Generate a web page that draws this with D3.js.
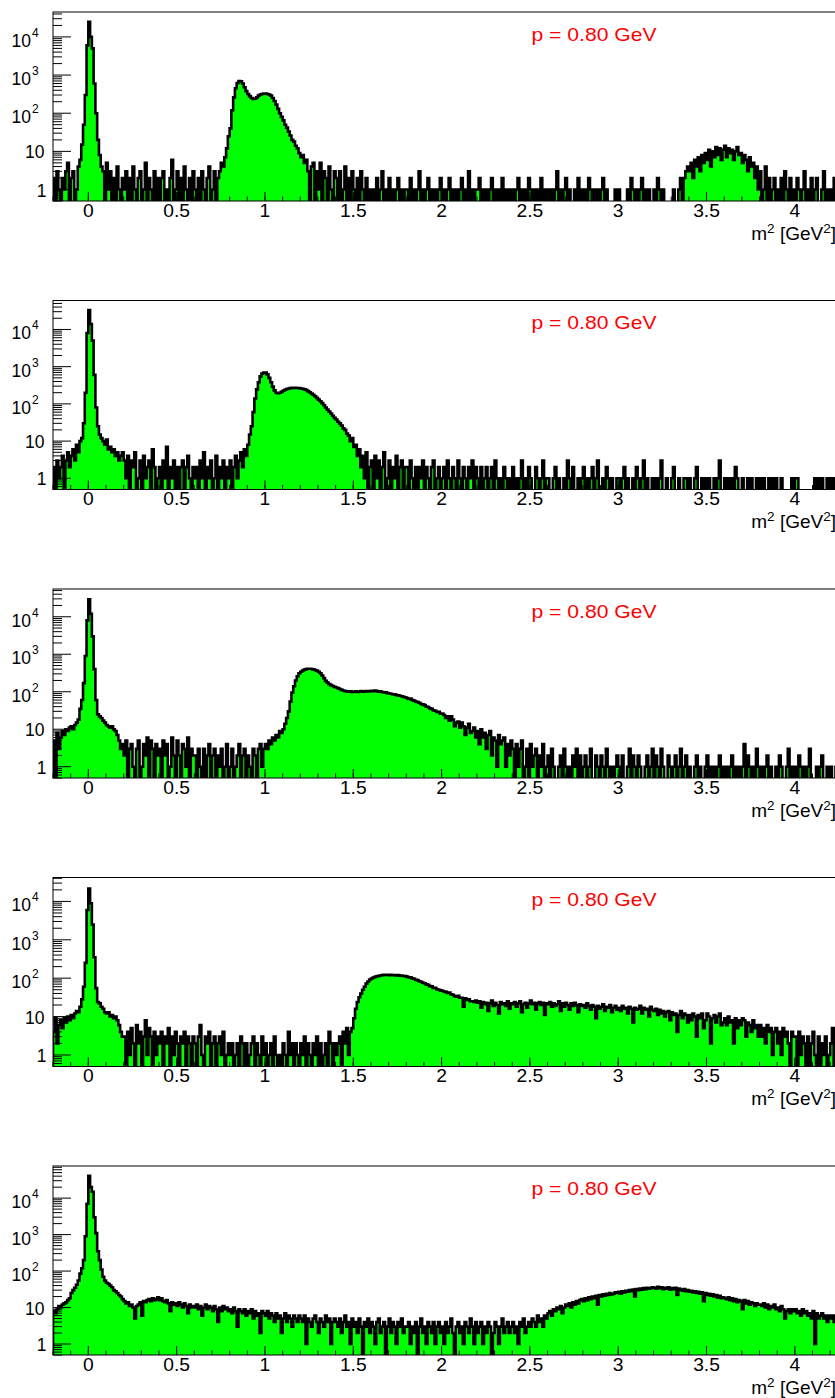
<!DOCTYPE html>
<html><head><meta charset="utf-8">
<script src="https://cdn.jsdelivr.net/npm/d3@7"></script>
<style>body{margin:0;background:#fff}svg{display:block}</style>
</head><body>
<script>
// ---- data (bin width 0.01 GeV^2, first bin starts at -0.2) ----
const xMin = -0.2, xMax = 4.25, binWidth = 0.01, yMin = 0.5;
const panelLabels = ["p = 0.80 GeV","p = 0.80 GeV","p = 0.80 GeV","p = 0.80 GeV","p = 0.80 GeV"];
const yMaxValues = [4.5e4, 6.0e4, 5.5e4, 4.2e4, 7.6e4];
const xTickValues = [0,0.5,1,1.5,2,2.5,3,3.5,4];
const xTickLabels = ["0","0.5","1","1.5","2","2.5","3","3.5","4"];
const yTickValues = [1,10,100,1000,10000];
const yTickBase = ["1","10","10","10","10"];
const yTickExp = ["","","2","3","4"];

const counts1 = [
2,0,3,1,0,2,1,3,5,0,2,3,0,1,4,6,15,50,300,6000,
25000,10000,5000,600,100,20,8,4,3,0,5,1,3,0,2,0,4,1,0,2,
1,3,0,2,0,4,1,0,2,3,0,1,5,0,2,1,0,3,0,2,
0,2,3,0,1,0,2,6,0,1,3,0,2,0,4,1,0,2,0,3,
1,0,2,0,3,1,0,2,4,0,1,3,0,2,3,5,4,7,12,25,
40,120,260,450,620,700,690,600,480,380,320,280,250,235,240,260,290,310,320,330,
330,320,310,290,250,210,170,130,100,80,65,50,42,33,26,20,18,14,12,9,
7,8,5,6,3,0,4,5,0,3,1,5,0,3,2,0,4,1,0,3,
2,0,3,0,1,4,0,2,0,3,1,0,2,0,3,1,0,2,0,1,
0,1,0,2,0,1,3,0,1,0,2,0,1,0,1,2,0,1,0,1,
1,0,2,0,1,0,1,3,0,1,0,1,2,0,1,0,1,0,1,2,
0,1,0,1,2,0,1,0,1,0,1,2,0,1,0,3,0,1,0,1,
1,2,0,1,0,1,0,1,2,0,1,0,1,0,2,0,1,0,1,0,
1,0,1,2,0,1,0,1,0,2,1,0,1,0,1,0,2,0,1,0,
1,0,1,0,1,3,0,1,0,1,2,0,1,0,0,1,0,2,0,1,
0,1,0,2,1,0,1,0,1,0,1,2,0,1,0,0,0,0,1,0,
1,0,0,0,0,1,0,2,1,0,1,0,1,2,0,1,0,1,0,0,
1,0,2,1,0,1,0,0,0,0,0,1,0,0,1,2,0,2,3,4,
3,5,2,6,4,7,3,8,5,9,6,11,4,10,7,13,8,12,6,11,
14,7,12,9,11,6,10,13,8,9,5,8,6,3,7,4,5,2,4,1,
3,0,1,4,0,2,0,1,2,0,1,0,2,0,3,1,0,2,0,1,
0,2,1,0,1,3,0,1,0,2,0,1,2,0,0,1,3,0,1,0,
1,0,2,0,1];

const counts2 = [
2,0,3,1,2,4,0,3,5,2,4,6,3,8,5,10,12,30,200,8000,
33000,14000,5000,600,80,25,15,12,10,8,11,6,7,5,6,4,5,3,4,5,
3,1,4,0,3,2,5,0,1,3,0,4,1,2,3,0,6,2,0,1,
2,0,3,1,7,0,2,1,3,0,2,0,2,3,0,2,4,1,0,2,
1,2,0,3,1,5,0,2,1,3,0,1,4,0,2,1,3,0,2,1,
3,0,2,4,1,3,5,2,6,4,8,15,25,60,140,245,380,550,650,700,
690,620,500,380,290,230,200,195,200,210,225,240,250,260,265,270,272,270,268,265,
260,255,245,235,220,205,190,175,160,145,130,118,105,92,80,70,62,55,48,42,
38,33,30,26,22,20,16,14,10,12,7,8,4,6,2,4,1,5,0,2,
3,0,4,1,3,0,2,5,0,1,3,0,2,1,4,0,2,3,0,2,
2,0,3,1,0,2,0,2,1,3,0,2,1,0,2,3,0,1,2,0,
1,2,0,3,1,0,2,1,0,3,1,0,2,1,0,2,1,3,0,2,
1,0,2,0,1,2,0,1,2,0,3,1,0,1,0,2,1,0,1,0,
2,0,1,0,1,3,0,1,0,2,1,0,0,2,1,0,1,3,0,1,
1,0,0,1,2,0,1,0,0,1,0,3,1,0,2,0,0,1,0,1,
2,0,1,0,1,2,0,1,3,0,0,1,0,2,1,0,1,0,0,1,
1,0,1,2,0,1,0,0,1,0,2,1,0,1,3,0,1,0,0,1,
0,1,0,1,3,0,0,1,0,0,1,2,0,0,1,0,0,1,1,0,
1,0,0,1,2,0,0,1,0,1,0,1,0,0,1,0,1,3,0,0,
1,0,1,0,1,0,2,1,0,0,1,0,0,1,0,1,0,0,1,0,
1,0,1,0,0,1,0,1,0,1,0,0,1,0,0,0,0,0,1,0,
1,1,0,0,0,0,0,0,0,0,0,1,0,1,0,1,0,0,1,0,
1,0,1,0,1];

const counts3 = [
5,0,8,3,6,9,7,10,9,11,12,10,13,15,18,35,60,170,900,8000,
29000,12000,3000,400,60,25,22,20,17,15,13,12,11,12,10,9,7,5,3,4,
2,5,0,3,4,1,0,3,5,0,1,4,2,6,0,5,3,0,4,2,
3,0,5,2,4,0,1,6,2,0,5,2,0,4,3,1,6,0,3,2,
2,0,3,1,0,3,0,2,4,0,2,3,0,2,1,3,0,1,4,0,
1,3,0,1,2,4,0,2,3,0,2,1,0,3,2,0,3,4,1,3,
4,3,5,4,6,5,7,6,9,8,10,14,20,30,55,95,140,200,260,310,
340,370,390,405,410,410,405,395,380,365,340,310,270,230,195,175,160,150,142,135,
130,125,118,112,108,105,102,100,102,98,100,103,99,101,104,100,102,105,101,104,
106,103,107,104,100,102,98,95,96,92,90,88,86,85,82,80,78,76,73,71,
68,64,66,60,58,55,53,51,47,46,44,40,39,36,35,32,31,29,29,26,
26,24,20,22,17,22,18,12,15,16,11,15,12,7,11,14,8,9,11,6,
9,4,10,6,8,3,7,9,2,6,5,1,7,4,5,6,1,4,2,5,
3,0,4,1,3,5,0,1,3,0,4,1,2,3,0,2,1,4,0,1,
2,0,3,1,0,0,1,2,0,3,1,0,1,0,2,1,3,0,2,0,
1,2,0,1,3,0,0,2,1,0,2,1,0,3,1,0,1,0,1,2,
1,0,2,0,0,1,3,0,2,1,0,2,1,0,0,1,2,0,1,3,
0,2,1,0,3,1,0,0,2,1,0,1,2,0,1,3,0,1,2,0,
1,0,0,1,2,0,1,0,0,1,2,0,1,0,1,0,1,2,0,1,
0,1,0,1,2,0,1,0,1,0,1,4,0,2,1,0,1,0,3,1,
0,1,0,1,2,0,1,0,0,1,0,2,1,0,0,1,3,0,1,0,
1,0,2,1,0,1,0,1,3,0,0,0,1,0,1,2,0,0,1,0,
1,0,0,1,2];

const counts4 = [
4,9,2,6,8,5,9,7,10,8,11,9,12,14,13,18,28,60,250,6000,
21500,9000,2500,350,55,24,22,18,16,13,12,13,10,11,9,10,8,6,4,3,
3,0,4,1,5,2,0,6,2,4,0,3,8,1,5,3,0,4,1,3,
2,4,0,3,2,5,0,3,1,4,2,0,3,2,4,0,3,2,0,3,
2,0,3,6,1,0,3,2,4,0,2,3,0,2,3,1,4,0,1,2,
1,2,0,1,2,0,3,2,0,2,0,1,2,3,0,2,1,0,3,1,
2,0,1,2,0,3,1,0,1,0,2,1,0,4,1,2,0,2,1,0,
2,1,3,0,2,1,0,2,1,3,0,2,0,1,2,0,4,2,0,2,
1,2,3,0,4,2,5,1,4,5,9,16,24,32,40,50,60,72,82,92,
98,104,108,112,115,118,120,122,121,123,120,122,119,121,118,120,116,118,114,113,
110,106,105,99,97,91,89,83,81,76,74,69,67,62,61,56,56,51,50,48,
47,45,44,41,42,38,37,34,33,35,31,31,18,30,27,28,25,25,24,26,
23,25,17,24,21,23,14,22,26,19,23,20,12,24,21,22,19,25,16,22,
21,24,18,22,25,13,21,23,17,22,26,21,23,15,22,24,20,23,11,22,
21,24,18,22,19,21,25,14,22,18,23,20,15,22,19,23,20,13,21,19,
20,17,22,19,15,20,18,9,19,16,18,21,14,18,17,20,13,17,19,15,
17,14,19,16,17,12,18,16,7,17,15,16,19,12,17,15,16,10,18,15,
14,16,11,15,12,14,10,13,14,8,13,11,12,4,11,14,9,12,11,7,
11,8,12,10,3,11,9,12,5,8,12,10,2,9,11,7,10,12,6,7,
9,6,10,7,8,2,9,5,8,6,9,8,3,7,6,4,8,5,6,3,
6,3,5,2,6,4,5,1,4,5,2,4,1,5,3,4,2,0,4,3,
3,0,4,1,3,2,0,3,0,2,4,1,0,3,0,2,1,3,0,1,
2,5,0,2,3];

const counts5 = [
8,7,9,11,10,12,13,14,16,18,25,30,35,42,55,85,120,200,900,7000,
41000,20000,15000,3000,1100,350,200,110,70,55,48,45,40,36,30,28,25,22,20,17,
15,13,14,11,12,10,5,11,12,14,6,15,14,16,17,15,18,16,17,19,
16,18,15,14,16,13,8,14,12,13,11,14,12,10,13,11,7,12,10,11,
10,12,9,11,6,10,12,9,11,10,8,11,9,4,10,8,11,9,10,8,
9,7,10,8,3,9,8,7,9,6,8,7,9,5,8,6,7,2,8,7,
6,8,5,7,6,4,7,5,6,2,5,7,4,6,5,3,6,5,4,6,
5,4,6,1,5,4,3,5,6,4,2,5,4,3,6,4,5,1,4,5,
4,3,5,2,4,6,3,4,1,5,3,4,2,5,3,0,4,3,5,2,
4,3,1,4,5,2,3,4,0,3,5,2,4,3,1,4,3,5,2,3,
3,4,1,3,2,4,0,3,5,2,3,1,4,3,2,4,1,3,4,2,
3,1,4,2,3,5,2,0,3,4,2,3,1,4,3,2,5,3,1,4,
2,3,4,1,3,2,4,3,0,2,4,3,1,3,5,2,3,4,2,3,
4,2,3,1,4,3,5,2,3,4,3,5,4,3,6,4,5,3,6,5,
7,8,6,9,8,10,9,11,7,10,12,11,13,10,14,12,15,13,16,17,
15,18,16,19,17,20,18,21,12,22,20,23,21,24,22,25,23,24,26,25,
27,24,28,26,29,27,30,28,31,20,32,30,33,31,34,32,35,33,34,36,
35,33,37,34,36,32,35,33,36,31,34,32,35,22,33,31,29,32,28,30,
27,29,26,28,25,27,24,26,15,25,22,24,21,23,20,22,19,21,18,19,
18,17,19,16,18,15,17,14,16,15,9,16,13,15,12,14,13,11,13,12,
12,11,13,10,12,9,11,10,12,9,10,8,11,9,5,8,9,7,9,8,
9,7,8,6,9,7,8,6,7,5,8,1,7,5,6,7,5,6,4,6,
5,6,4,5,6];

const allCounts = [counts1, counts2, counts3, counts4, counts5];

// ---- layout ----
const W = 835, H = 1398;
const frameLeft = 53, frameRight = 839, frameH = 189;
const panelTops = [12, 300.5, 589, 877.5, 1166];
const font = "'Liberation Sans', Arial, Helvetica, sans-serif";

const svg = d3.select("body").append("svg").attr("width", W).attr("height", H)
  .style("font-family", font);

const x = d3.scaleLinear().domain([xMin, xMax]).range([frameLeft, frameRight]);

allCounts.forEach((counts, k) => {
  const top = panelTops[k];
  const g = svg.append("g").attr("transform", `translate(0,${top})`);
  const y = d3.scaleLog().domain([yMin, yMaxValues[k]]).range([frameH, 0]);

  g.append("clipPath").attr("id", "clip" + k).append("rect")
    .attr("x", frameLeft).attr("y", 0).attr("width", frameRight - frameLeft).attr("height", frameH);

  const below = frameH + 10;
  const pts = [[x(xMin), below]];
  counts.forEach((v, i) => {
    const yy = v > 0 ? y(v) : below;
    pts.push([x(xMin + i * binWidth), yy]);
    pts.push([x(xMin + (i + 1) * binWidth), yy]);
  });
  pts.push([x(xMin + counts.length * binWidth), below]);
  const line = d3.line();
  const hg = g.append("g").attr("clip-path", `url(#clip${k})`);
  hg.append("path").attr("d", line(pts) + "Z").attr("fill", "#00ff00").attr("stroke", "none");
  hg.append("path").attr("d", line(pts)).attr("fill", "none").attr("stroke", "#000")
    .attr("stroke-width", 2.6).attr("stroke-linejoin", "miter");

  // frame
  g.append("rect").attr("x", frameLeft).attr("y", 0).attr("width", frameRight - frameLeft)
    .attr("height", frameH).attr("fill", "none").attr("stroke", "#000").attr("stroke-width", 1);

  // y ticks
  const yMaxV = yMaxValues[k];
  const minor = [];
  for (let dec = 0.1; dec < yMaxV; dec *= 10) {
    for (let m = 2; m <= 9; m++) {
      const v = m * dec;
      if (v >= yMin && v <= yMaxV) minor.push(v);
    }
  }
  g.selectAll(".ymin").data(minor).enter().append("line")
    .attr("x1", frameLeft).attr("x2", frameLeft + 9)
    .attr("y1", d => y(d)).attr("y2", d => y(d)).attr("stroke", "#000").attr("stroke-width", 1);
  g.selectAll(".ymaj").data(yTickValues).enter().append("line")
    .attr("x1", frameLeft).attr("x2", frameLeft + 18)
    .attr("y1", d => y(d)).attr("y2", d => y(d)).attr("stroke", "#000").attr("stroke-width", 1);

  yTickValues.forEach((v, j) => {
    const t = g.append("text").attr("font-size", 17.5).attr("fill", "#000");
    if (yTickExp[j] === "") {
      t.attr("x", j === 0 ? 46.5 : 44.5).attr("y", y(v) + 7).attr("text-anchor", "end").text(yTickBase[j]);
    } else {
      t.attr("x", 11.5).attr("y", y(v) + 10).attr("text-anchor", "start");
      t.append("tspan").text(yTickBase[j]);
      t.append("tspan").attr("font-size", 12).attr("dy", -10).attr("dx", 1).text(yTickExp[j]);
    }
  });

  // x ticks
  const xMinor = d3.range(-2, 43).map(i => i / 10);
  g.selectAll(".xmin").data(xMinor).enter().append("line")
    .attr("x1", d => x(d)).attr("x2", d => x(d))
    .attr("y1", frameH).attr("y2", frameH - 4.5).attr("stroke", "#000").attr("stroke-width", 1);
  g.selectAll(".xmaj").data(xTickValues).enter().append("line")
    .attr("x1", d => x(d)).attr("x2", d => x(d))
    .attr("y1", frameH).attr("y2", frameH - 9).attr("stroke", "#000").attr("stroke-width", 1);
  xTickValues.forEach((v, j) => {
    g.append("text")
      .attr("transform", `translate(${x(v)},${frameH + 15.5}) scale(1.1,1)`)
      .attr("text-anchor", "middle").attr("font-size", 17.5).attr("fill", "#000")
      .text(xTickLabels[j]);
  });

  // axis title
  const at = g.append("text").attr("x", 836).attr("y", frameH + 38.5).attr("text-anchor", "end")
    .attr("font-size", 19).attr("fill", "#000");
  at.append("tspan").text("m");
  at.append("tspan").attr("font-size", 13.5).attr("dy", -7).text("2");
  at.append("tspan").attr("dy", 7).text(" [GeV");
  at.append("tspan").attr("font-size", 13.5).attr("dy", -7).text("2");
  at.append("tspan").attr("dy", 7).text("]");

  // label
  g.append("text").attr("x", 531.5).attr("y", 28.5).attr("font-size", 18.5).attr("fill", "#ff0000")
    .attr("textLength", 125).attr("lengthAdjust", "spacingAndGlyphs").text(panelLabels[k]);
});
</script>
</body></html>
